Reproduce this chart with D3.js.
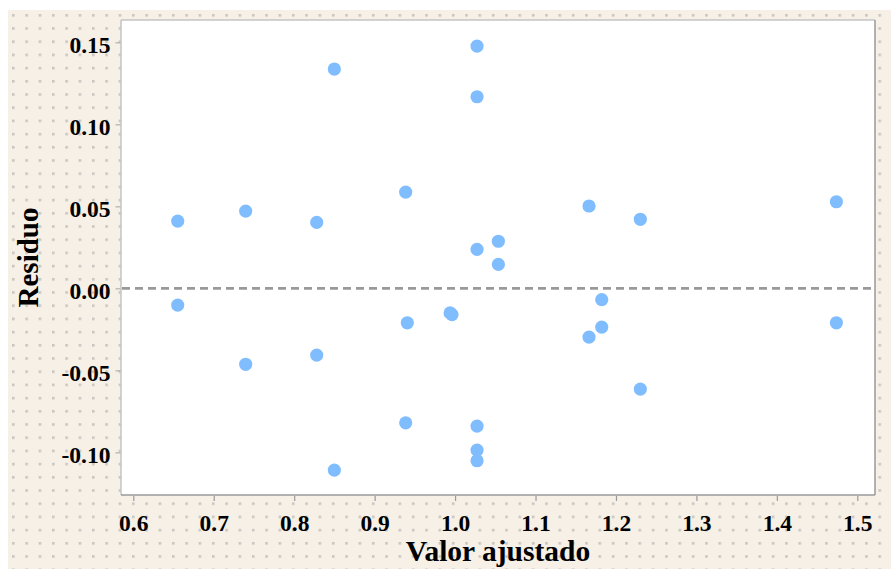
<!DOCTYPE html>
<html>
<head>
<meta charset="utf-8">
<script src="https://cdn.jsdelivr.net/npm/d3@7"></script>
<style>
  html, body { margin: 0; padding: 0; background: #ffffff; }
  svg { display: block; }
</style>
</head>
<body>
<svg id="chart" width="891" height="569"></svg>
<script>
// Data
const fitted = [
  0.6552, 0.6552,
  0.7397, 0.7397,
  0.8280, 0.8280,
  0.8499, 0.8499,
  0.9386, 0.9406, 0.9386,
  0.9938, 0.9962,
  1.0273, 1.0273, 1.0273, 1.0273, 1.0273, 1.0273,
  1.0538, 1.0538,
  1.1665, 1.1665,
  1.1823, 1.1823,
  1.2303, 1.2303,
  1.4740, 1.4740
];
const residuals = [
  0.0410, -0.0102,
  0.0471, -0.0463,
  0.0402, -0.0407,
  0.1337, -0.1108,
  0.0587, -0.0210, -0.0820,
  -0.0150, -0.0160,
  0.1477, 0.1168, 0.0238, -0.0840, -0.0986, -0.1051,
  0.0287, 0.0146,
  0.0502, -0.0297,
  -0.0069, -0.0236,
  0.0421, -0.0614,
  0.0528, -0.0210
];
const xTicks = [0.6, 0.7, 0.8, 0.9, 1.0, 1.1, 1.2, 1.3, 1.4, 1.5];
const yTicks = [-0.10, -0.05, 0.00, 0.05, 0.10, 0.15];
const xTitle = "Valor ajustado";
const yTitle = "Residuo";

const svg = d3.select("#chart");
const W = 891, H = 569;
const plot = { left: 121, top: 20, right: 875, bottom: 495 };

// background with dotted pattern
const defs = svg.append("defs");
const pat = defs.append("pattern")
  .attr("id", "dots")
  .attr("patternUnits", "userSpaceOnUse")
  .attr("x", 12).attr("y", 14)
  .attr("width", 13.33).attr("height", 13.2);
pat.append("rect").attr("width", 13.33).attr("height", 13.2).attr("fill", "#f6f0e7");
pat.append("rect").attr("x", 0).attr("y", 0).attr("width", 2.6).attr("height", 2.6).attr("fill", "#c9c6c1");

svg.append("rect").attr("x", 0).attr("y", 0).attr("width", W).attr("height", H).attr("fill", "#ffffff");
svg.append("rect").attr("x", 8).attr("y", 10).attr("width", W - 8).attr("height", H - 10).attr("fill", "url(#dots)");

const x = d3.scaleLinear().domain([0.5847, 1.522]).range([plot.left, plot.right]);
const y = d3.scaleLinear().domain([-0.1260, 0.1636]).range([plot.bottom, plot.top]);

// plot area
svg.append("rect")
  .attr("x", plot.left).attr("y", plot.top)
  .attr("width", plot.right - plot.left).attr("height", plot.bottom - plot.top)
  .attr("fill", "#ffffff");
// frame: light top/left, darker right/bottom
svg.append("line").attr("x1", plot.left).attr("x2", plot.right).attr("y1", plot.top).attr("y2", plot.top)
  .attr("stroke", "#c4c4c4").attr("stroke-width", 1.5);
svg.append("line").attr("x1", plot.left).attr("x2", plot.left).attr("y1", plot.top).attr("y2", plot.bottom)
  .attr("stroke", "#c4c4c4").attr("stroke-width", 1.5);
svg.append("line").attr("x1", plot.right).attr("x2", plot.right).attr("y1", plot.top).attr("y2", plot.bottom)
  .attr("stroke", "#9a9a9a").attr("stroke-width", 1.5);
svg.append("line").attr("x1", plot.left).attr("x2", plot.right).attr("y1", plot.bottom).attr("y2", plot.bottom)
  .attr("stroke", "#9a9a9a").attr("stroke-width", 1.5);

const font = "'Liberation Serif', 'Times New Roman', serif";
const hyphenMinus = f => d => f(d).replace("\u2212", "-");

// x axis
const xAxis = d3.axisBottom(x).tickValues(xTicks).tickSize(5).tickPadding(8)
  .tickFormat(d3.format(".1f"));
const gx = svg.append("g").attr("transform", `translate(0,${plot.bottom + 1})`).call(xAxis);
gx.select(".domain").remove();
gx.selectAll(".tick line").attr("stroke", "#9a9a9a").attr("stroke-width", 1.2);
gx.selectAll(".tick text")
  .attr("font-family", font).attr("font-size", 23.5).attr("font-weight", "bold")
  .attr("fill", "#000").attr("dy", "0.95em");

// y axis
const yAxis = d3.axisLeft(y).tickValues(yTicks).tickSize(5).tickPadding(5)
  .tickFormat(hyphenMinus(d3.format(".2f")));
const gy = svg.append("g").attr("transform", `translate(${plot.left - 0.5},0)`).call(yAxis);
gy.select(".domain").remove();
gy.selectAll(".tick line").attr("stroke", "#b0b0b0").attr("stroke-width", 1.2);
gy.selectAll(".tick text")
  .attr("font-family", font).attr("font-size", 23.5).attr("font-weight", "bold")
  .attr("fill", "#000").attr("dy", "0.42em");

// zero reference line
svg.append("line")
  .attr("x1", plot.left + 1).attr("x2", plot.right - 1)
  .attr("y1", y(0)).attr("y2", y(0))
  .attr("stroke", "#999999").attr("stroke-width", 2.6)
  .attr("stroke-dasharray", "8,5");

// points
svg.append("g").selectAll("circle")
  .data(fitted.map((f, i) => [f, residuals[i]]))
  .join("circle")
  .attr("cx", d => x(d[0]))
  .attr("cy", d => y(d[1]))
  .attr("r", 6.6)
  .attr("fill", "#80bdff");

// titles
svg.append("text")
  .attr("x", (plot.left + plot.right) / 2).attr("y", 561)
  .attr("text-anchor", "middle")
  .attr("font-family", font).attr("font-size", 29.5).attr("font-weight", "bold")
  .attr("fill", "#000").text(xTitle);

svg.append("text")
  .attr("transform", `translate(38,${(plot.top + plot.bottom) / 2}) rotate(-90)`)
  .attr("text-anchor", "middle")
  .attr("font-family", font).attr("font-size", 29).attr("font-weight", "bold")
  .attr("fill", "#000").text(yTitle);
</script>
</body>
</html>
